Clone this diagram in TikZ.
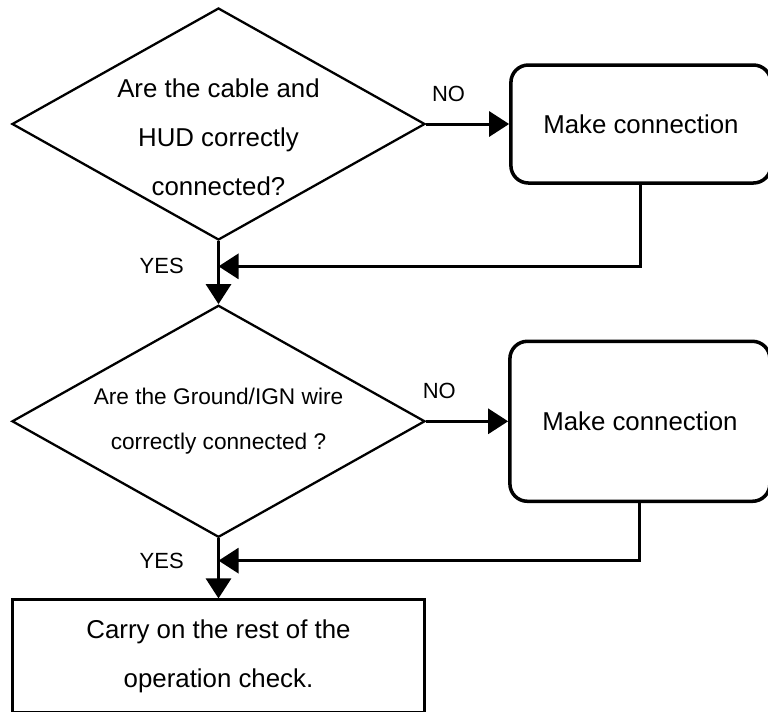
\documentclass[tikz,border=0pt]{standalone}
\usepackage{fontspec}
\setmainfont{Liberation Sans}
\usetikzlibrary{arrows.meta, positioning, shapes.geometric, calc}
\tikzset{
  every picture/.style={line width=1.7pt},
  decision/.style={diamond, draw, line width=1.3pt, aspect=1.78, minimum width=8.26cm, minimum height=4.64cm, inner sep=-0.3cm, align=center},
  process/.style={draw, rounded corners=0.35cm, line width=2pt, align=center, minimum width=5.2cm},
  endbox/.style={draw, line width=1.7pt, align=center, minimum width=8.24cm, minimum height=2.26cm},
  arrow/.style={-{Triangle[length=0.4cm, width=0.5cm]}, line width=1.7pt},
  lbl/.style={font=\fontsize{12.5pt}{15pt}\selectfont},
  bigtext/.style={font=\fontsize{14.7pt}{27.8pt}\selectfont},
  smalltext/.style={font=\fontsize{12.9pt}{25.5pt}\selectfont},
}

\begin{document}
\begin{tikzpicture}
  \useasboundingbox (0,0) rectangle (15.36,-14.22);
  \node[decision, bigtext] (d1) at (4.37,-2.48) {\rule{0pt}{0.9cm}Are the cable and\\HUD correctly\\connected?};
  \node[process, bigtext, minimum height=2.36cm, right=1.66cm of d1] (b1) {Make connection};
  \node[decision, smalltext, below=1.26cm of d1] (d2) {Are the Ground/IGN wire\\correctly connected ?};
  \node[process, bigtext, minimum height=3.2cm, right=1.64cm of d2] (b2) {Make connection};
  \node[endbox, bigtext, below=1.2cm of d2] (b3) {Carry on the rest of the\\operation check.};
  \coordinate (j1) at ($(d1.south)!0.4!(d2.north)$);
  \coordinate (j2) at ($(d2.south)!0.37!(b3.north)$);
  \draw[arrow] (d1.east) -- node[lbl, above=0.3cm, pos=0.27] (no1) {NO} (b1.west);
  \draw[arrow] (d2.east) -- node[lbl, above=0.3cm, pos=0.16] (no2) {NO} (b2.west);
  \draw[arrow] (d1.south) -- (d2.north);
  \draw[arrow] (d2.south) -- (b3.north);
  \draw[arrow] (b1.south) |- (j1);
  \draw[arrow] (b2.south) |- (j2);
  \node[lbl, left=0.55cm of j1] (yes1) {YES};
  \node[lbl, left=0.55cm of j2] (yes2) {YES};
\end{tikzpicture}
\end{document}
